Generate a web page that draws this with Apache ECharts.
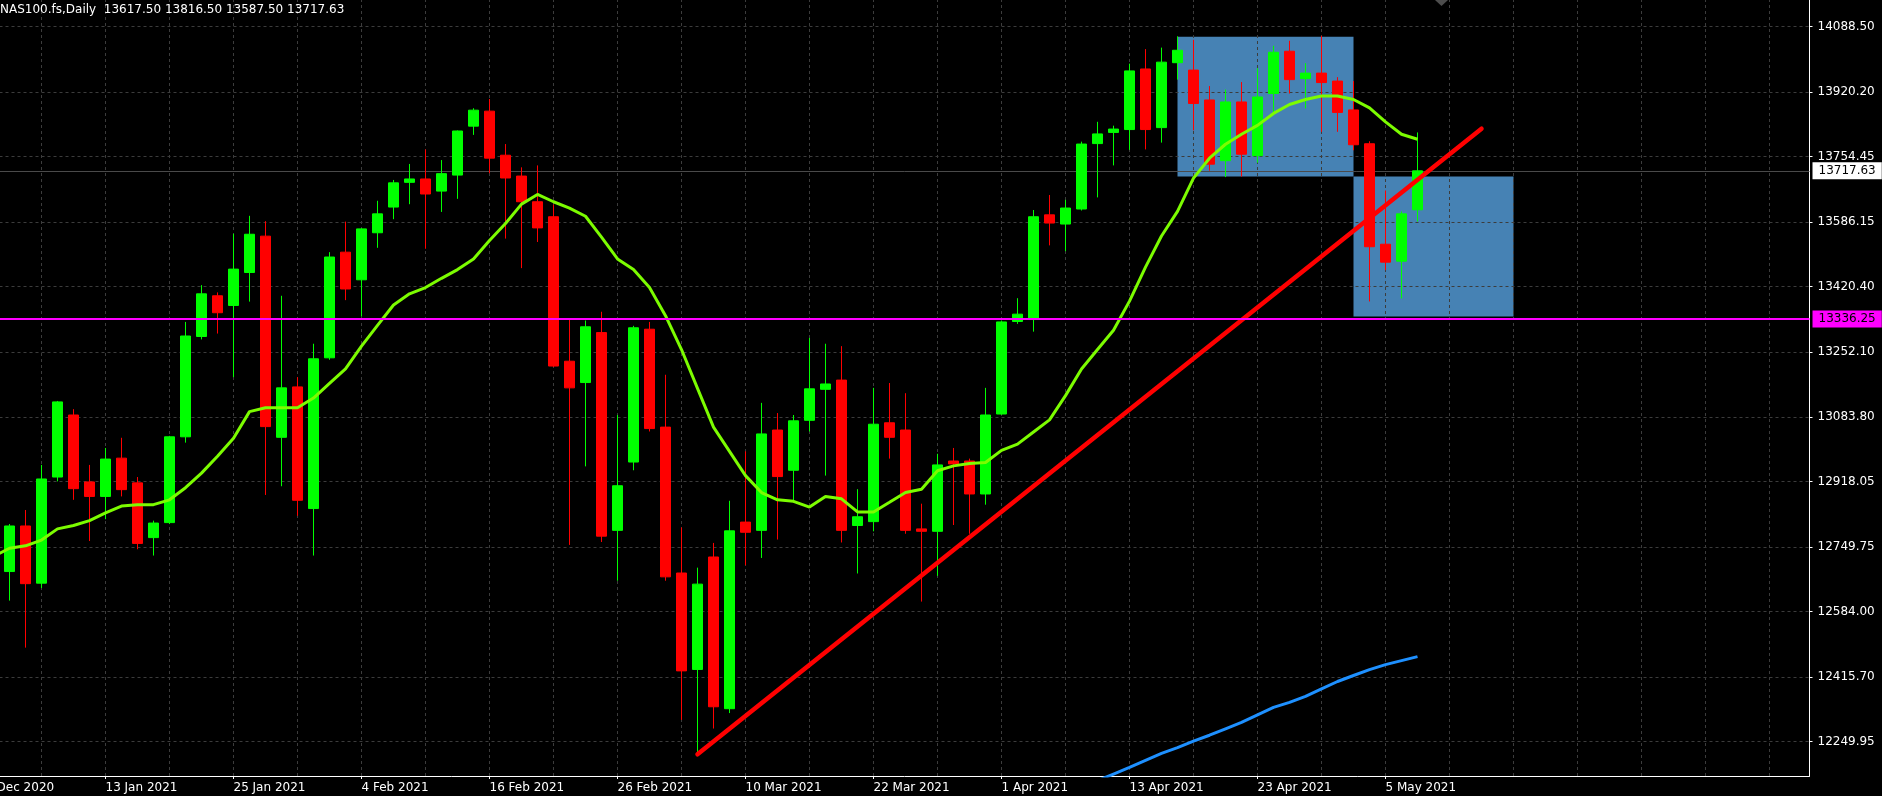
<!DOCTYPE html>
<html><head><meta charset="utf-8">
<script src="https://cdn.jsdelivr.net/npm/echarts@6/dist/echarts.min.js"></script>
<style>html,body{margin:0;padding:0;background:#000;overflow:hidden}#c{width:1882px;height:796px}</style>
</head><body><div id="c"></div>
<script>
const symbolName = 'NAS100.fs,Daily';
const categories = [
'2020-12-31','2021-01-04','2021-01-05','2021-01-06','2021-01-07','2021-01-08','2021-01-11','2021-01-12','2021-01-13','2021-01-14','2021-01-15',
'2021-01-18','2021-01-19','2021-01-20','2021-01-21','2021-01-22','2021-01-25','2021-01-26','2021-01-27','2021-01-28','2021-01-29',
'2021-02-01','2021-02-02','2021-02-03','2021-02-04','2021-02-05','2021-02-08','2021-02-09','2021-02-10','2021-02-11','2021-02-12',
'2021-02-15','2021-02-16','2021-02-17','2021-02-18','2021-02-19','2021-02-22','2021-02-23','2021-02-24','2021-02-25','2021-02-26',
'2021-03-01','2021-03-02','2021-03-03','2021-03-04','2021-03-05','2021-03-08','2021-03-09','2021-03-10','2021-03-11','2021-03-12',
'2021-03-15','2021-03-16','2021-03-17','2021-03-18','2021-03-19','2021-03-22','2021-03-23','2021-03-24','2021-03-25','2021-03-26',
'2021-03-29','2021-03-30','2021-03-31','2021-04-01','2021-04-02','2021-04-05','2021-04-06','2021-04-07','2021-04-08','2021-04-09',
'2021-04-12','2021-04-13','2021-04-14','2021-04-15','2021-04-16','2021-04-19','2021-04-20','2021-04-21','2021-04-22','2021-04-23',
'2021-04-26','2021-04-27','2021-04-28','2021-04-29','2021-04-30','2021-05-03','2021-05-04','2021-05-05','2021-05-06','2021-05-07',
'2021-05-10','2021-05-11','2021-05-12','2021-05-13','2021-05-14','2021-05-17','2021-05-18','2021-05-19','2021-05-20','2021-05-21',
'2021-05-24','2021-05-25','2021-05-26','2021-05-27','2021-05-28','2021-05-31','2021-06-01','2021-06-02','2021-06-03','2021-06-04',
'2021-06-07','2021-06-08','2021-06-09','2021-06-10'];

const firstBarDate = '2021-01-05';
const open = [12686.9,12804.1,12657.0,12930.0,13089.6,12917.5,12880.1,12978.6,12915.0,12774.2,
12812.8,13033.5,13291.6,13396.3,13371.4,13456.2,13549.7,13032.2,13161.9,12848.9,
13236.7,13508.5,13437.4,13558.4,13624.5,13688.1,13696.8,13665.6,13706.8,13832.7,
13871.3,13757.9,13704.3,13638.2,13599.6,13228.0,13173.1,13301.6,12792.8,12968.6,
13310.3,13058.4,12683.1,12435.0,12724.3,12334.0,12814.1,12792.8,13050.9,12947.4,
13075.9,13155.7,13179.4,12805.3,12815.3,13069.6,13050.9,12796.6,12790.4,12971.2,
12971.2,12886.4,13092.1,13330.2,13335.2,13604.5,13580.8,13619.5,13787.8,13816.5,
13823.9,13979.8,13828.9,13995.9,13976.8,13900.0,13743.9,13894.9,13756.7,13916.6,
14025.4,13955.0,13969.1,13948.6,13874.4,13787.4,13528.9,13485.4,13617.50];
const high = [12809.1,12845.2,12961.2,13125.7,13104.6,12961.2,13004.8,13031.0,12930.0,12817.8,
13036.0,13329.0,13423.7,13405.0,13555.9,13602.0,13588.3,13396.3,13186.9,13272.9,
13508.5,13587.1,13570.0,13640.7,13694.3,13735.4,13772.8,13745.4,13821.5,13878.8,
13902.5,13786.6,13726.7,13731.7,13630.7,13338.9,13332.7,13355.2,13089.6,13319.0,
13329.0,13193.1,12800.3,12696.9,12760.5,12868.9,12996.1,13120.8,13094.6,13089.6,
13287.8,13272.9,13266.7,12898.8,13159.4,13171.9,13145.7,12861.4,12989.8,13004.8,
12977.4,13159.4,13332.7,13390.1,13617.0,13655.6,13643.2,13792.8,13843.9,13833.9,
13993.5,14030.9,14034.7,14063.8,14054.8,13935.8,13926.9,13946.1,13981.9,14039.5,
14052.3,13994.7,14065.1,13958.8,13948.6,13793.8,13667.1,13613.3,13816.50];
const low = [12612.1,12491.1,12644.5,12918.8,12871.4,12765.4,12821.5,12880.1,12744.2,12728.0,
12809.1,13018.5,13284.1,13299.1,13186.9,13381.3,12883.9,12906.3,12830.3,12728.0,
13231.7,13385.1,13342.7,13519.7,13593.3,13631.9,13517.2,13612.0,13645.7,13810.2,
13711.7,13543.4,13467.4,13534.7,13213.0,12755.4,12957.4,12762.9,12663.2,12947.4,
13047.2,12663.2,12305.4,12216.8,12283.0,12322.8,12703.1,12721.8,12769.2,12868.9,
13047.2,12933.7,12761.7,12681.9,12790.4,12977.4,12784.1,12609.6,12675.7,12806.6,
12784.1,12858.9,13090.0,13324.0,13304.0,13526.0,13511.0,13615.7,13649.4,13731.7,
13771.6,13772.8,13790.3,13952.4,13821.9,13718.2,13701.6,13702.9,13738.7,13869.3,
13916.6,13878.2,13818.1,13818.1,13770.7,13381.7,13462.3,13389.4,13587.50];
const close = [12804.1,12655.7,12925.0,13123.3,12900.1,12880.1,12976.2,12897.6,12759.2,12811.6,
13033.5,13292.8,13401.3,13352.7,13464.9,13554.6,13059.7,13159.4,12870.2,13234.2,
13496.0,13413.8,13568.4,13607.0,13686.8,13696.8,13658.1,13710.5,13820.2,13873.8,
13750.4,13699.3,13638.2,13570.9,13215.5,13159.4,13316.5,12777.9,12907.6,13314.0,
13054.7,12673.2,12431.3,12654.5,12339.0,12791.6,12787.9,13040.9,12931.2,13074.6,
13156.9,13169.4,12792.8,12827.8,13065.9,13032.2,12792.8,12790.4,12961.2,12963.7,
12886.4,13089.6,13329.0,13349.0,13599.6,13583.4,13622.0,13786.6,13812.7,13825.2,
13974.8,13823.9,13997.3,14027.9,13891.0,13734.9,13894.9,13760.5,13907.7,14022.8,
13952.4,13969.1,13944.8,13868.0,13784.8,13522.5,13482.8,13607.0,13717.63];

const maFastStart = '2021-01-04';
const maFast = [12725.5,12746.7,12753.0,12767.9,12796.6,12805.3,12817.8,12837.7,12855.2,12858.9,
12858.9,12871.4,12902.5,12940.0,12983.6,13029.7,13098.3,13108.3,13108.3,13108.3,
13133.2,13170.7,13208.1,13266.7,13320.2,13372.6,13401.3,13417.5,13441.2,13463.6,
13491.1,13538.4,13582.1,13632.0,13656.9,13638.2,13622.0,13600.8,13547.2,13491.1,
13463.6,13417.5,13345.2,13258.0,13158.2,13058.4,12996.1,12933.7,12890.1,12871.4,
12867.6,12852.7,12880.1,12873.9,12840.2,12840.2,12865.1,12890.1,12898.8,12946.2,
12958.7,12964.9,12967.4,12998.6,13014.8,13046.0,13077.1,13139.4,13208.1,13258.0,
13307.8,13382.6,13469.9,13550.0,13613.3,13699.1,13750.2,13786.1,13811.7,13834.7,
13865.4,13888.5,13901.3,13910.2,13910.2,13901.3,13879.5,13843.7,13811.7,13798.9];

const maSlowStart = '2021-04-07';
const maSlow = [12116,12132,12149,12166,12183,12201,12219,12233.8,12250.4,12265.8,
12282.4,12299.0,12318.3,12337.5,12350.3,12365.6,12384.8,12404.0,12419.4,12434.7,
12447.5,12457.8,12468.0];

const trendLine = [['2021-03-05', 12216.8], ['2021-05-13', 13826.0]];
const boxes = [
  {from: '2021-04-16', to: '2021-05-03', top: 14062.5, bottom: 13702.9},
  {from: '2021-05-03', to: '2021-05-17', top: 13702.9, bottom: 13343.3}
];
const supportLevel = 13336.25;
const yTicks = [14088.50,13920.20,13754.45,13586.15,13420.40,13252.10,13083.80,12918.05,12749.75,12584.00,12415.70,12249.95];
const labelDates = ['2020-12-31','2021-01-13','2021-01-25','2021-02-04','2021-02-16','2021-02-26','2021-03-10','2021-03-22','2021-04-01','2021-04-13','2021-04-23','2021-05-05'];
const yMin = 12160.9, yMax = 14157.2;

const FONT = 'DejaVu Sans';
const MON = ['Jan','Feb','Mar','Apr','May','Jun','Jul','Aug','Sep','Oct','Nov','Dec'];
function fmtDate(s){ const p = s.split('-'); return (+p[2]) + ' ' + MON[+p[1]-1] + ' ' + p[0]; }

const barOffset = categories.indexOf(firstBarDate);
const candleData = open.map((o,i)=>[i+barOffset, o, close[i], low[i], high[i]]);
const fastOff = categories.indexOf(maFastStart);
const fastData = maFast.map((v,i)=>[i+fastOff, v]);
const slowOff = categories.indexOf(maSlowStart);
const slowData = maSlow.map((v,i)=>[i+slowOff, v]);
const trendData = trendLine.map(p=>[categories.indexOf(p[0]), p[1]]);
const vGrid = categories.filter((d,k)=>k%4===0);
const last = open.length-1;
const fix2 = v => Number(v).toFixed(2);

const chart = echarts.init(document.getElementById('c'), null, {renderer:'canvas'});
chart.setOption({
  animation: false,
  backgroundColor: '#000000',
  title: {
    text: symbolName + '  ' + fix2(open[last]) + ' ' + fix2(high[last]) + ' ' + fix2(low[last]) + ' ' + fix2(close[last]),
    left: 0, top: 4, padding: 0,
    textStyle: {color: '#ffffff', fontSize: 12, fontWeight: 'normal', fontFamily: FONT}
  },
  grid: {left: -30.5, right: 72.5, top: 0, bottom: 20, containLabel: false, outerBoundsMode: 'none'},
  xAxis: {
    type: 'category', data: categories, boundaryGap: true,
    axisLine: {show: true, lineStyle: {color: '#ffffff', width: 1}},
    axisTick: {show: true, alignWithLabel: true, length: 3, interval: (i, v) => labelDates.includes(v), lineStyle: {color: '#ffffff'}},
    axisLabel: {show: true, interval: (i, v) => labelDates.includes(v), formatter: v => fmtDate(v), color: '#ffffff', fontSize: 12, fontFamily: FONT, align: 'left', margin: 6},
    splitLine: {show: false}
  },
  yAxis: {
    type: 'value', position: 'right', min: yMin, max: yMax,
    axisLine: {show: true, lineStyle: {color: '#ffffff', width: 1}},
    axisTick: {show: true, length: 3, customValues: yTicks, lineStyle: {color: '#ffffff'}},
    axisLabel: {show: true, customValues: yTicks, formatter: v => fix2(v), color: '#ffffff', fontSize: 12, fontFamily: FONT, margin: 8},
    splitLine: {show: false}
  },
  graphic: [{type: 'polygon', shape: {points: [[1435,0],[1448,0],[1441.5,6]]}, style: {fill: '#4d4d4d'}}],
  series: [
    {
      type: 'line', data: [], z: 1, silent: true,
      markArea: {silent: true, z: 1, itemStyle: {color: '#4682b4', opacity: 1},
        data: boxes.map(b => [{coord: [b.from, b.top]}, {coord: [b.to, b.bottom]}])}
    },
    {
      type: 'line', data: [], z: 2, silent: true,
      markLine: {silent: true, z: 2, symbol: ['none','none'], animation: false,
        label: {show: false},
        lineStyle: {type: [3,3], color: '#3c3c3c', width: 1},
        data: yTicks.map(v => ({yAxis: v})).concat(vGrid.map(d => ({xAxis: d}))).concat([
          {yAxis: close[last], lineStyle: {type: 'solid', color: '#4a4a4a', width: 1},
           label: {show: true, position: 'end', distance: 3, formatter: p => fix2(p.value), color: '#000000', backgroundColor: '#ffffff', padding: [2,6,1,6], fontSize: 12, fontFamily: FONT, lineHeight: 14}}
        ])}
    },
    {
      type: 'candlestick', data: candleData, z: 3, barWidth: 10,
      encode: {x: 0, y: [1,2,3,4]},
      itemStyle: {color: '#00ff00', color0: '#ff0000', borderColor: '#00ff00', borderColor0: '#ff0000', borderWidth: 1},
      emphasis: {disabled: true}
    },
    {
      type: 'line', data: slowData, z: 4, showSymbol: false, symbol: 'none', clip: true,
      lineStyle: {color: '#1e90ff', width: 3}, emphasis: {disabled: true}
    },
    {
      type: 'line', data: fastData, z: 4, showSymbol: false, symbol: 'none', clip: true,
      lineStyle: {color: '#7cfc00', width: 3}, emphasis: {disabled: true}
    },
    {
      type: 'line', data: trendData, z: 5, showSymbol: false, symbol: 'none',
      lineStyle: {color: '#ff0000', width: 4.5, cap: 'round'}, emphasis: {disabled: true}
    },
    {
      type: 'line', data: [], z: 6, silent: true,
      markLine: {silent: true, z: 6, symbol: ['none','none'], animation: false,
        data: [{yAxis: supportLevel, lineStyle: {type: 'solid', color: '#ff00ff', width: 2},
          label: {show: true, position: 'end', distance: 3, formatter: p => fix2(p.value), color: '#000000', backgroundColor: '#ff00ff', padding: [2,6,1,6], fontSize: 12, fontFamily: FONT, lineHeight: 14}}]}
    }
  ]
});
</script></body></html>
